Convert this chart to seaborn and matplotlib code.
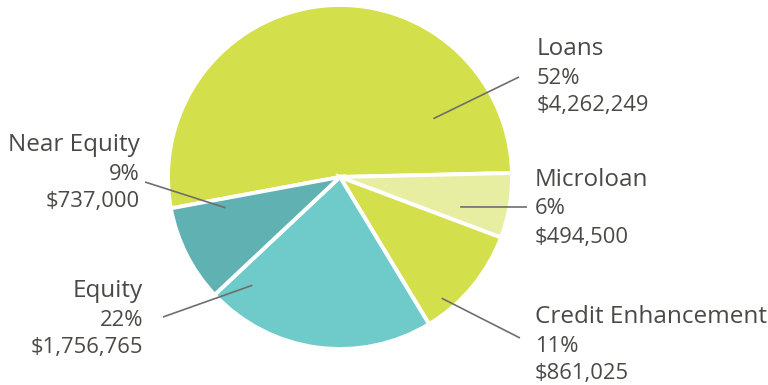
import matplotlib
matplotlib.use("Agg")
import matplotlib.pyplot as plt
import seaborn as sns
import numpy as np

categories = ["Loans", "Microloan", "Credit Enhancement", "Equity", "Near Equity"]
values = [4262249, 494500, 861025, 1756765, 737000]
pct_labels = ["52%", "6%", "11%", "22%", "9%"]
money_labels = ["$4,262,249", "$494,500", "$861,025", "$1,756,765", "$737,000"]
colors = ["#d4e04b", "#e7eea2", "#d4e04b", "#6fcbca", "#5fb1b2"]

sns.set_theme(style="white")
plt.rcParams["font.family"] = ["Open Sans", "DejaVu Sans"]

W, H = 768, 385
fig = plt.figure(figsize=(7.68, 3.85), dpi=100)
ax = fig.add_axes([0, 0, 1, 1])

cx, cy, R = 340, H - 177, 172
wedges, _ = ax.pie(values, colors=colors, startangle=190.5, counterclock=False,
                   center=(cx, cy), radius=R, frame=True,
                   wedgeprops=dict(edgecolor="white", linewidth=2.8))
ax.set_xlim(0, W)
ax.set_ylim(0, H)
ax.set_aspect("equal")
ax.axis("off")

# layout: (anchor angle deg, anchor radius frac, line end px, text x px, text top-line y px, align)
layout = [
    (32, 0.64, (519, 77), 537, 49, "left"),
    (-14, 0.72, (527, 207), 535, 180, "left"),
    (-50, 0.92, (520, 338), 535, 317, "left"),
    (-129, 0.81, (163, 317), 143, 291, "right"),
    (195, 0.69, (145, 182), 140, 145, "right"),
]
txt_color = "#4a4945"
for i, (ang, rf, (ex, ey), tx, ty, ha) in enumerate(layout):
    a = np.deg2rad(ang)
    sx = cx + rf * R * np.cos(a)
    sy = cy + rf * R * np.sin(a)
    ax.plot([sx, ex], [sy, H - ey], color="#6e6e6e", lw=1.2, solid_capstyle="butt")
    ax.text(tx, H - ty, categories[i], ha=ha, va="center", fontsize=17.5, color=txt_color)
    ax.text(tx, H - ty - 29, pct_labels[i], ha=ha, va="center", fontsize=15.8, color=txt_color)
    ax.text(tx, H - ty - 57, money_labels[i], ha=ha, va="center", fontsize=15.8, color=txt_color)

fig.savefig("out.png", dpi=100)
